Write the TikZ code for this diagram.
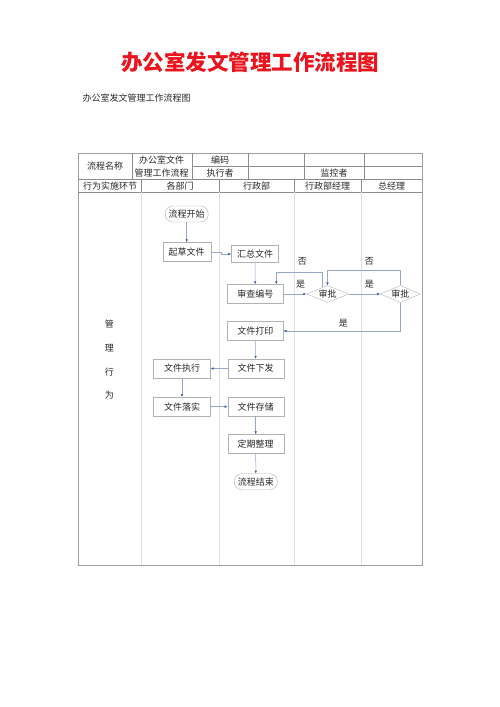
\documentclass[tikz,border=0pt]{standalone}
\usepackage{fontspec}
\setmainfont{Noto Sans CJK SC}
\usetikzlibrary{positioning, arrows.meta, shapes.geometric}

\definecolor{linkblue}{RGB}{60,95,170}
\definecolor{linkgray}{RGB}{150,165,200}
\definecolor{titlered}{RGB}{235,20,30}

\begin{document}
\begin{tikzpicture}[x=1pt, y=-1pt, font=\fontsize{9}{10}\selectfont, text=black!85,
    box/.style={draw=gray!60, minimum width=56pt, minimum height=19pt, inner sep=1pt},
    term/.style={draw=gray!60, rounded corners=7.5pt, minimum width=43pt, minimum height=16pt, inner sep=1pt},
    check/.style={draw=gray!60, diamond, aspect=2.4, minimum width=42pt, minimum height=17pt, inner sep=0pt},
    flow/.style={draw=linkgray, line width=0.5pt, -{Latex[length=3pt,width=2.6pt,color=linkblue]}},
    cell/.style={font=\fontsize{9}{10}\selectfont, inner sep=0pt}]
  \useasboundingbox (0,0) rectangle (500,707);

  % title
  \node[text=titlered, font=\fontsize{21.5}{24}\selectfont\bfseries] (title) at (250,62) {办公室发文管理工作流程图};
  \node[anchor=west] (subtitle) at (79,98) {办公室发文管理工作流程图};

  % table
  \draw[gray!75] (78,153) rectangle (422,565);
  \draw[gray!90] (191.7,166) -- (422,166);
  \draw[gray!90] (78,179) -- (422,179);
  \draw[gray!90] (78,192) -- (422,192);
  \foreach \x in {131.7,191.7,247.7,304,364}
    \draw[gray!90] (\x,153) -- (\x,179);
  \foreach \x in {141,219,294,361} {
    \draw[gray!90] (\x,179) -- (\x,192);
    \draw[gray!25] (\x,192) -- (\x,565);
  }

  \node[cell] (hname) at (105,166) {流程名称};
  \node[cell] (hflow1) at (161.7,160) {办公室文件};
  \node[cell] (hflow2) at (161.7,172.7) {管理工作流程};
  \node[cell] (hcode) at (220,160) {编码};
  \node[cell] (hexec) at (220,172.7) {执行者};
  \node[cell] (hmon) at (334,172.7) {监控者};
  \node[cell] (lstep) at (110,186) {行为实施环节};
  \node[cell] (ldept) at (180,186) {各部门};
  \node[cell] (ladmin) at (256.5,186) {行政部};
  \node[cell] (lmgr) at (327.5,186) {行政部经理};
  \node[cell] (lgm) at (391.5,186) {总经理};

  \node (v1) at (109.3,324) {管};
  \node (v2) at (109.3,348) {理};
  \node (v3) at (109.3,371.7) {行};
  \node (v4) at (109.3,395) {为};

  % flow
  \node[term] (start) at (186.7,214) {流程开始};
  \node[box, minimum width=48pt] (draft) at (186.7,252) {起草文件};
  \node[box, minimum width=47pt, minimum height=17pt] (collect) at (255,254) {汇总文件};
  \node[box] (review) at (255.3,294) {审查编号};
  \node[check] (ok1) at (327.5,294) {审批};
  \node[check, minimum width=40pt] (ok2) at (400.3,294) {审批};
  \node[box] (print) at (255.3,331) {文件打印};
  \node[box] (issue) at (255.7,368.5) {文件下发};
  \node[box, minimum width=57pt] (exec) at (182,368.5) {文件执行};
  \node[box, minimum width=57pt] (apply) at (182,406.7) {文件落实};
  \node[box] (store) at (255.7,406.7) {文件存储};
  \node[box] (sort) at (255.7,444) {定期整理};
  \node[term] (end) at (255.8,481.7) {流程结束};

  \coordinate (loopa) at (0,272.3);
  \coordinate (loopb) at (0,270);

  \draw[flow] (start) -- (draft);
  \draw[flow] (draft.east) -- ++(10,0) |- (collect.west);
  \draw[flow] (collect) -- (review);
  \draw[flow] (review) -- (ok1);
  \draw[flow] ([xshift=-5pt,yshift=-2pt]ok1.north) -- ([xshift=-5pt]ok1.north |- loopa) -| ([xshift=21pt]review.north);
  \draw[flow] (ok1) -- (ok2);
  \draw[flow] (ok2.north) -- (ok2.north |- loopb) -| (ok1.north);
  \draw[flow] (ok2.south) |- (print.east);
  \draw[flow] (print) -- (issue);
  \draw[flow] (issue) -- (exec);
  \draw[flow] (exec) -- (apply);
  \draw[flow] (apply) -- (store);
  \draw[flow] (store) -- (sort);
  \draw[flow] (sort) -- (end);

  \node (yes1) at (300.7,284) {是};
  \node (no1) at (302.3,261) {否};
  \node (yes2) at (369.3,284) {是};
  \node (no2) at (369.3,261) {否};
  \node (yes3) at (343.3,323.3) {是};
\end{tikzpicture}
\end{document}
